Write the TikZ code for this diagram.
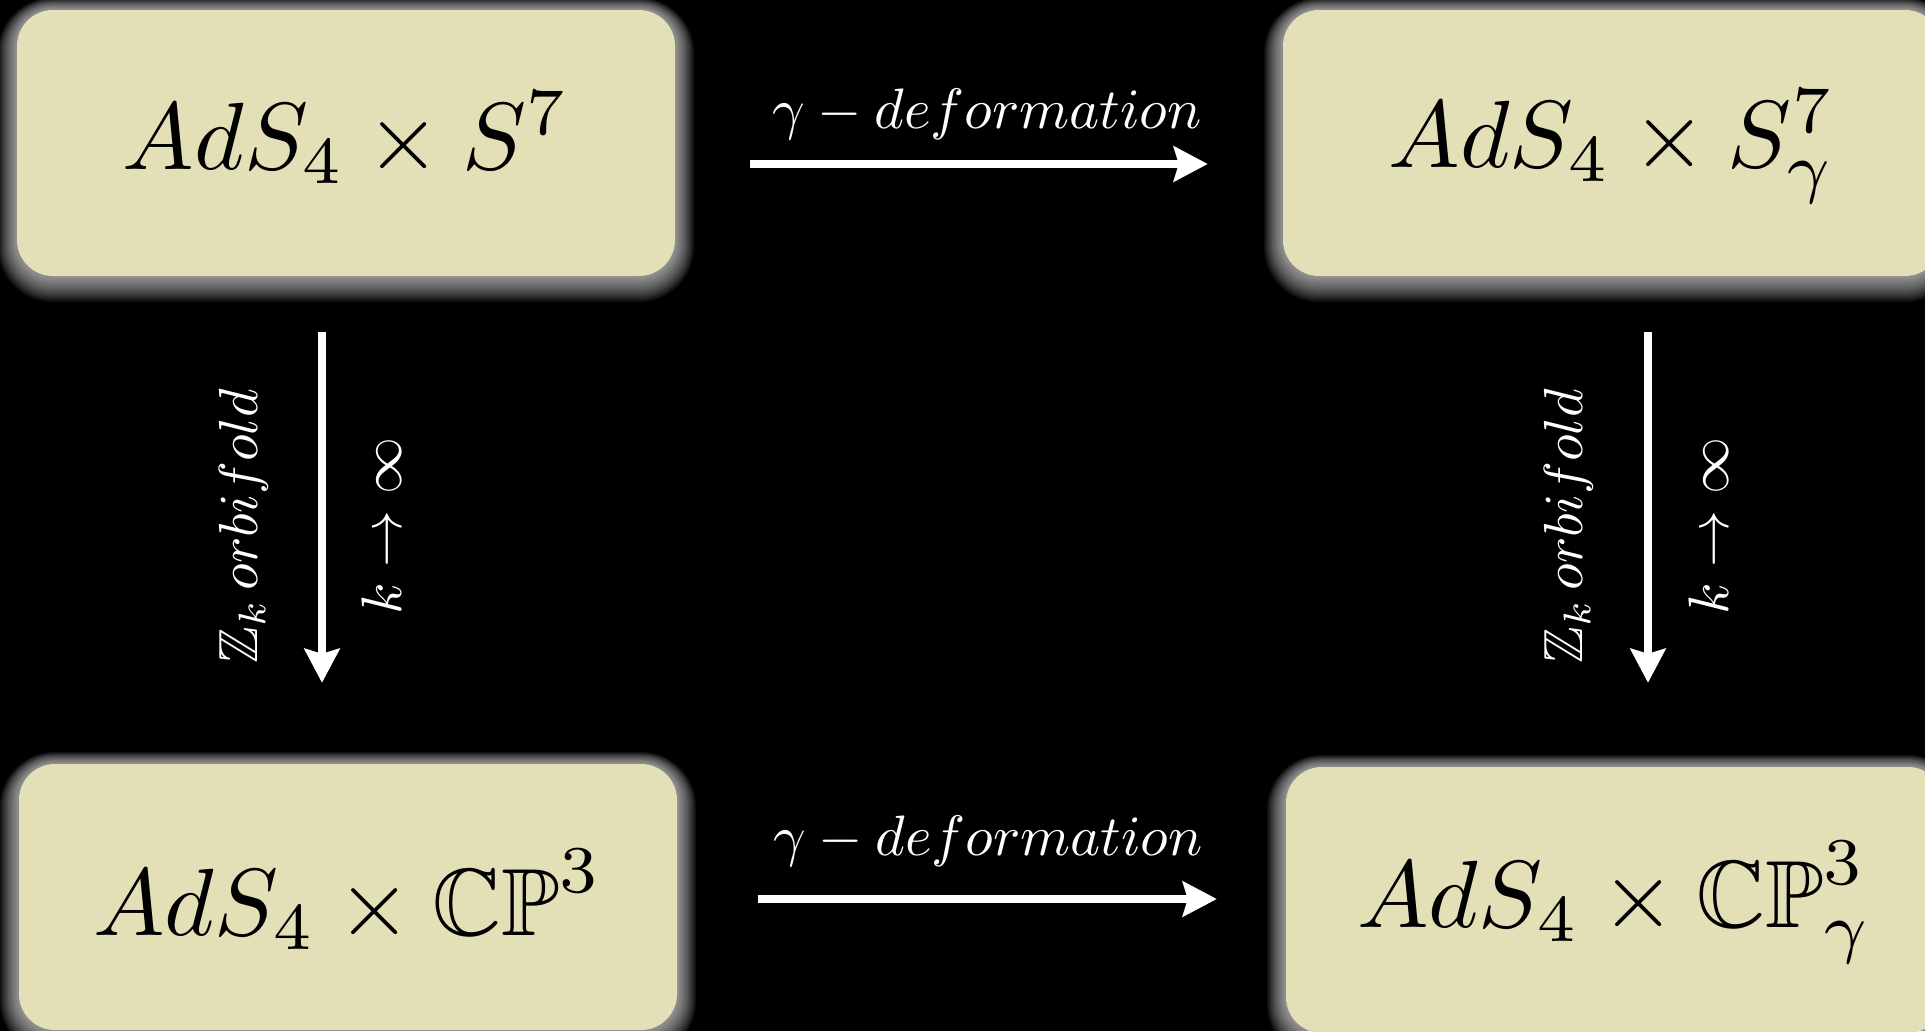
\documentclass[tikz,border=0pt]{standalone}
\usepackage{amssymb}
\usetikzlibrary{arrows.meta}

\definecolor{boxfill}{RGB}{227,223,183}

\pgfdeclarelayer{bg}
\pgfdeclarelayer{glow}
\pgfsetlayers{bg,glow,main}

% 10pt math, magnified
\newcommand\spacemath[1]{\scalebox{9.55}{$#1$}}
\newcommand\lblmath[1]{\scalebox{5.7}{$#1$}}
\newcommand\sidemath[1]{\scalebox{5.5}{$#1$}}

\tikzset{
  spacebox/.style={fill=boxfill, rounded corners=36pt, inner sep=0pt,
    minimum width=658pt, text=black, anchor=base},
  lbl/.style={text=white, inner sep=0pt, anchor=base},
  flow/.style={draw=white, line width=8pt,
    -{Stealth[length=34pt,width=35pt,inset=5pt]}}
}

% soft light halo under a box, a little heavier below
\newcommand\glowaround[1]{%
  \begin{pgfonlayer}{glow}
  \foreach \i in {1,...,14}{
    \pgfmathsetmacro\gr{1.35*\i}
    \pgfmathsetmacro\gu{\gr-0.5*\i}
    \pgfmathsetmacro\gd{\gr+0.5*\i}
    \pgfmathsetmacro\rc{36+\gr}
    \fill[white, fill opacity=0.06, rounded corners=\rc pt]
      ([xshift=-\gr pt, yshift=\gu pt]#1.north west) rectangle
      ([xshift=\gr pt, yshift=-\gd pt]#1.south east);
  }
  \end{pgfonlayer}}

\begin{document}
\begin{tikzpicture}[x=1pt,y=-1pt]
\useasboundingbox (0,0) rectangle (1925,1031);
\begin{pgfonlayer}{bg}
  \fill[black] (0,0) rectangle (1925,1031);
\end{pgfonlayer}

% the four spaces
\node[spacebox, text height=159pt, text depth=107pt] (tl) at (346,169) {\spacemath{AdS_4\times S^7}};
\node[spacebox, text height=157pt, text depth=109pt] (tr) at (1612,167) {\spacemath{AdS_4\times S^7_\gamma}};
\node[spacebox, text height=171pt, text depth=95pt] (bl) at (348,935) {\spacemath{AdS_4\times\mathbb{CP}^3}};
\node[spacebox, text height=160pt, text depth=106pt] (br) at (1615,927) {\spacemath{AdS_4\times\mathbb{CP}^3_\gamma}};

\glowaround{tl}
\glowaround{tr}
\glowaround{bl}
\glowaround{br}

% deformation arrows
\draw[flow, shorten <=75pt, shorten >=75pt]
  ([yshift=-21pt]tl.east) -- ([yshift=-21pt]tr.west);
\draw[flow, shorten <=81pt, shorten >=69pt]
  ([yshift=-2pt]bl.east) -- ([yshift=-2pt]bl.east -| br.west);

% orbifold arrows
\draw[flow, shorten <=56pt, shorten >=81pt]
  ([xshift=-24pt]tl.south) -- ([xshift=-24pt]tl.south |- bl.north);
\draw[flow, shorten <=56pt, shorten >=84pt]
  ([xshift=36pt]tr.south) -- ([xshift=36pt]tr.south |- br.north);

% labels
\node[lbl] (d1) at (987,128) {\lblmath{\gamma-deformation}};
\node[lbl] (d2) at (988,855) {\lblmath{\gamma-deformation}};
\node[lbl, rotate=90] (o1) at (257,526) {\sidemath{\mathbb{Z}_k\,orbifold}};
\node[lbl, rotate=90] (k1) at (401,526) {\lblmath{k\to\infty}};
\node[lbl, rotate=90] (o2) at (1582,526) {\sidemath{\mathbb{Z}_k\,orbifold}};
\node[lbl, rotate=90] (k2) at (1728,526) {\lblmath{k\to\infty}};
\end{tikzpicture}
\end{document}
